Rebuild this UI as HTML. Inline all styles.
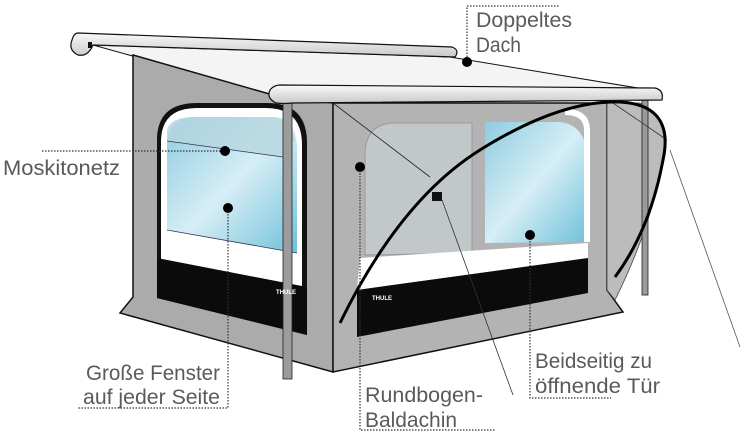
<!DOCTYPE html>
<html><head><meta charset="utf-8"><style>
html,body{margin:0;padding:0;background:#fff;}
svg{display:block;}
text{font-family:"Liberation Sans",sans-serif;fill:#5a5a5a;font-size:21px;}
</style></head><body>
<svg width="744" height="432" viewBox="0 0 744 432" xmlns="http://www.w3.org/2000/svg">
<defs>
<linearGradient id="gl" x1="0" y1="0" x2="1" y2="1">
<stop offset="0" stop-color="#8fcbe0"/><stop offset="0.5" stop-color="#d6eef6"/><stop offset="1" stop-color="#6fc0da"/>
</linearGradient>
<linearGradient id="bar" x1="0" y1="0" x2="0" y2="1">
<stop offset="0" stop-color="#fafafa"/><stop offset="1" stop-color="#c8c8c8"/>
</linearGradient>
</defs>
<!-- roof -->
<polygon points="93,45 450,57 650,90 273,95" fill="#f4f4f4" stroke="#111" stroke-width="1"/>
<!-- left wall -->
<polygon points="133,55 273,95 333,103 333,372 120,313 133,297" fill="#ababab" stroke="#111" stroke-width="1.5"/>
<!-- front wall -->
<polygon points="333,103 607,103 607,290 623,312 333,372" fill="#b3b3b3" stroke="#111" stroke-width="1.5"/>
<!-- right door panel -->
<path d="M607,103 L640,103 Q675,120 663,160 Q650,230 615,300 L607,290 Z" fill="#bcbcbc" stroke="#444" stroke-width="0.8"/>
<!-- right pole -->
<rect x="642" y="100" width="6" height="195" fill="#9a9a9a" stroke="#222" stroke-width="0.8"/>
<!-- left window -->
<path d="M157,298 L157,140 Q157,103 197,103 L267,103 Q307,103 307,143 L307,335 Z" fill="#111"/>
<path d="M161,290 L161,142 Q161,108 197,108 L266,108 Q302,108 302,145 L302,320 Z" fill="#fff"/>
<path d="M167,230 L167,145 Q167,117 195,117 L272,117 Q297,117 297,150 L297,253 Z" fill="url(#gl)"/>
<path d="M167,141 L167,130 Q170,117 195,117 L272,117 Q290,117 295,140 L280,157 Z" fill="#b7d6e0" opacity="0.8"/>
<line x1="167" y1="141" x2="283" y2="157" stroke="#335" stroke-width="0.8"/>
<line x1="167" y1="230" x2="297" y2="253" stroke="#335" stroke-width="0.8"/>
<polygon points="157,258 307,287 307,335 157,298" fill="#0b0b0b"/>
<!-- left pole -->
<rect x="283" y="103" width="9" height="276" fill="#9c9c9c" stroke="#222" stroke-width="0.8"/>
<!-- front window ghost -->
<path d="M365,255 L365,150 Q368,123 395,123 L472,123 L472,253 Z" fill="#c2c7c9" stroke="#999" stroke-width="1"/>
<path d="M485,122 L560,122 Q587,125 587,160 L587,242 L485,243 Z" fill="url(#gl)"/>
<path d="M360,258 L588,243 L588,258 L357,290 Z" fill="#fff"/>
<path d="M587,242 L587,130 Q587,112 565,112" fill="none" stroke="#fff" stroke-width="6"/>
<polygon points="357,290 588,258 588,293 357,337" fill="#0b0b0b"/>
<text x="372" y="300" style="font-size:6px;fill:#fff;font-weight:bold">THULE</text>
<text x="276" y="294" style="font-size:6px;fill:#fff;font-weight:bold">THULE</text>
<!-- thin lines -->
<line x1="333" y1="103" x2="430" y2="177" stroke="#222" stroke-width="0.8"/>
<line x1="442" y1="200" x2="513" y2="395" stroke="#333" stroke-width="0.8"/>
<line x1="613" y1="103" x2="667" y2="140" stroke="#333" stroke-width="0.8"/>
<line x1="670" y1="150" x2="740" y2="347" stroke="#555" stroke-width="0.8"/>
<!-- big arc -->
<path d="M340,323 Q400,200 480,150 Q560,100 620,102 Q675,105 663,160 Q650,230 615,277" fill="none" stroke="#000" stroke-width="3"/>
<rect x="432" y="192" width="10" height="9" fill="#111"/>
<!-- top bar -->
<path d="M78,33 L452,47 Q460,50 455,57 L93,45 Q88,57 78,55 Q68,50 72,40 Q74,33 78,33 Z" fill="url(#bar)" stroke="#111" stroke-width="1.2"/>
<rect x="88" y="42" width="4" height="6" fill="#111"/>
<!-- front bar -->
<path d="M280,85 L655,88 Q664,90 662,100 L292,103 Q285,104 276,103 Q266,98 270,90 Q274,85 280,85 Z" fill="url(#bar)" stroke="#111" stroke-width="1.2"/>
<!-- dotted leaders -->
<g stroke="#333" stroke-width="1.2" stroke-dasharray="1.5,1.5" fill="none">
<polyline points="467,60 467,6 560,6"/>
<line x1="42" y1="151" x2="225" y2="151"/>
<polyline points="228,208 228,408 78,408"/>
<polyline points="360,167 360,430 495,430"/>
<polyline points="530,235 530,398 611,398"/>
</g>
<g fill="#000">
<circle cx="467" cy="62" r="5"/>
<circle cx="225" cy="151" r="5"/>
<circle cx="228" cy="208" r="5"/>
<circle cx="360" cy="167" r="5"/>
<circle cx="530" cy="235" r="5"/>
</g>
<text x="476" y="27" textLength="96" lengthAdjust="spacingAndGlyphs">Doppeltes</text>
<text x="476" y="52" textLength="45" lengthAdjust="spacingAndGlyphs">Dach</text>
<text x="3" y="175" textLength="117" lengthAdjust="spacingAndGlyphs">Moskitonetz</text>
<text x="86" y="380" textLength="134" lengthAdjust="spacingAndGlyphs">Große Fenster</text>
<text x="83" y="404" textLength="137" lengthAdjust="spacingAndGlyphs">auf jeder Seite</text>
<text x="365" y="402" textLength="118" lengthAdjust="spacingAndGlyphs">Rundbogen-</text>
<text x="365" y="427" textLength="92" lengthAdjust="spacingAndGlyphs">Baldachin</text>
<text x="535" y="368" textLength="117" lengthAdjust="spacingAndGlyphs">Beidseitig zu</text>
<text x="535" y="393" textLength="125" lengthAdjust="spacingAndGlyphs">öffnende Tür</text>
</svg>
</body></html>
